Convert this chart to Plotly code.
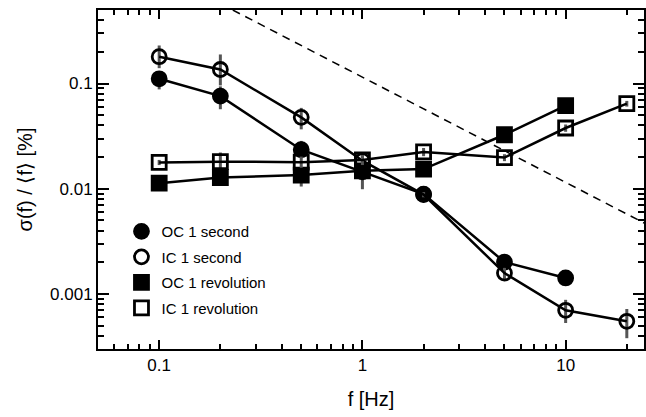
import plotly.graph_objects as go

# ---- data ----
oc_sec_f = [0.1, 0.2, 0.5, 1, 2, 5, 10]
oc_sec_y = [0.111, 0.076, 0.0235, 0.0145, 0.0089, 0.00201, 0.00142]
oc_sec_ep = [0.02, 0.018, 0.005, 0.0075, 0.0005, 0.0002, 0.0001]
oc_sec_em = [0.023, 0.019, 0.004, 0.0046, 0.0005, 0.0002, 0.0001]

ic_sec_f = [0.1, 0.2, 0.5, 1, 2, 5, 10, 20]
ic_sec_y = [0.18, 0.136, 0.0477, 0.0185, 0.0088, 0.00158, 0.0007, 0.00055]
ic_sec_ep = [0.05, 0.053, 0.011, 0.002, 0.0005, 0.0002, 0.00018, 0.00017]
ic_sec_em = [0.04, 0.04, 0.011, 0.002, 0.0005, 0.0002, 0.00017, 0.00017]

oc_rev_f = [0.1, 0.2, 0.5, 1, 2, 5, 10]
oc_rev_y = [0.0113, 0.0128, 0.0135, 0.0148, 0.0154, 0.0326, 0.0617]
oc_rev_ep = [0.001, 0.0015, 0.002, 0.002, 0.002, 0.002, 0.003]
oc_rev_em = [0.001, 0.0015, 0.003, 0.002, 0.002, 0.002, 0.003]

ic_rev_f = [0.1, 0.2, 0.5, 1, 2, 5, 10, 20]
ic_rev_y = [0.0178, 0.0181, 0.0179, 0.0188, 0.0224, 0.0198, 0.0378, 0.0644]
ic_rev_ep = [0.001, 0.004, 0.0025, 0.002, 0.002, 0.0015, 0.003, 0.004]
ic_rev_em = [0.001, 0.003, 0.0025, 0.002, 0.002, 0.0015, 0.003, 0.004]

ref_f = [0.2, 25]
ref_y = [0.575, 0.0046]

names = ["OC 1 second", "IC 1 second", "OC 1 revolution", "IC 1 revolution"]
symbols = ["circle", "circle-open", "square", "square-open"]

series = [
    (oc_sec_f, oc_sec_y, oc_sec_ep, oc_sec_em),
    (ic_sec_f, ic_sec_y, ic_sec_ep, ic_sec_em),
    (oc_rev_f, oc_rev_y, oc_rev_ep, oc_rev_em),
    (ic_rev_f, ic_rev_y, ic_rev_ep, ic_rev_em),
]

fig = go.Figure()

fig.add_trace(go.Scatter(x=ref_f, y=ref_y, mode="lines",
                         line=dict(color="black", width=1.5, dash="8px,6px"),
                         showlegend=False, hoverinfo="skip"))

for (fx, fy, ep, em), sym in zip(series, symbols):
    fig.add_trace(go.Scatter(
        x=fx, y=fy, mode="lines+markers",
        line=dict(color="black", width=2.5),
        marker=dict(symbol=sym, size=14, color="black",
                    line=dict(color="black", width=2.8)),
        error_y=dict(type="data", array=ep, arrayminus=em, symmetric=False,
                     color="#555555", thickness=3, width=0),
        showlegend=False))

for i, (nm, sym) in enumerate(zip(names, symbols)):
    fig.add_trace(go.Scatter(
        x=[None], y=[None], mode="markers", name=nm,
        legendgroup=f"g{i}",
        marker=dict(symbol=sym, size=14, color="black",
                    line=dict(color="black", width=2.8))))

minor_vals = [m * 10 ** e for e in range(-5, 3) for m in range(2, 10)]

axis_common = dict(
    type="log", showline=True, linecolor="black", linewidth=2,
    mirror="allticks", ticks="inside", tickcolor="black", tickwidth=1.5,
    showgrid=False, zeroline=False,
    tickfont=dict(family="Liberation Sans, Arial", size=17, color="black"),
)

fig.update_xaxes(
    **axis_common,
    range=[-1.30103, 1.3856],
    tickmode="array", tickvals=[0.1, 1, 10], ticktext=["0.1", "1", "10"],
    ticklen=9,
    minor=dict(tickmode="array", tickvals=minor_vals, ticks="inside",
               ticklen=5, tickwidth=1.5, tickcolor="black", showgrid=False),
    title=dict(text="f [Hz]", standoff=18,
               font=dict(family="Liberation Sans, Arial", size=20, color="black")),
)
fig.update_yaxes(
    **axis_common,
    range=[-3.5229, -0.30103],
    tickmode="array", tickvals=[0.001, 0.01, 0.1], ticktext=["0.001", "0.01", "0.1"],
    ticklen=11,
    minor=dict(tickmode="array", tickvals=minor_vals, ticks="inside",
               ticklen=6, tickwidth=1.5, tickcolor="black", showgrid=False),
    title=dict(text="σ(f) / ⟨f⟩ [%]", standoff=12,
               font=dict(family="Liberation Sans, Arial", size=20, color="black")),
)

fig.update_layout(
    width=646, height=417,
    margin=dict(l=98, r=0, t=10, b=68),
    paper_bgcolor="white", plot_bgcolor="white",
    font=dict(family="Liberation Sans, Arial", color="black"),
    legend=dict(x=0.043, y=0.395, xanchor="left", yanchor="top",
                bgcolor="rgba(0,0,0,0)", tracegroupgap=3,
                font=dict(family="Liberation Sans, Arial", size=15, color="black")),
)

fig.write_html("out.html")
